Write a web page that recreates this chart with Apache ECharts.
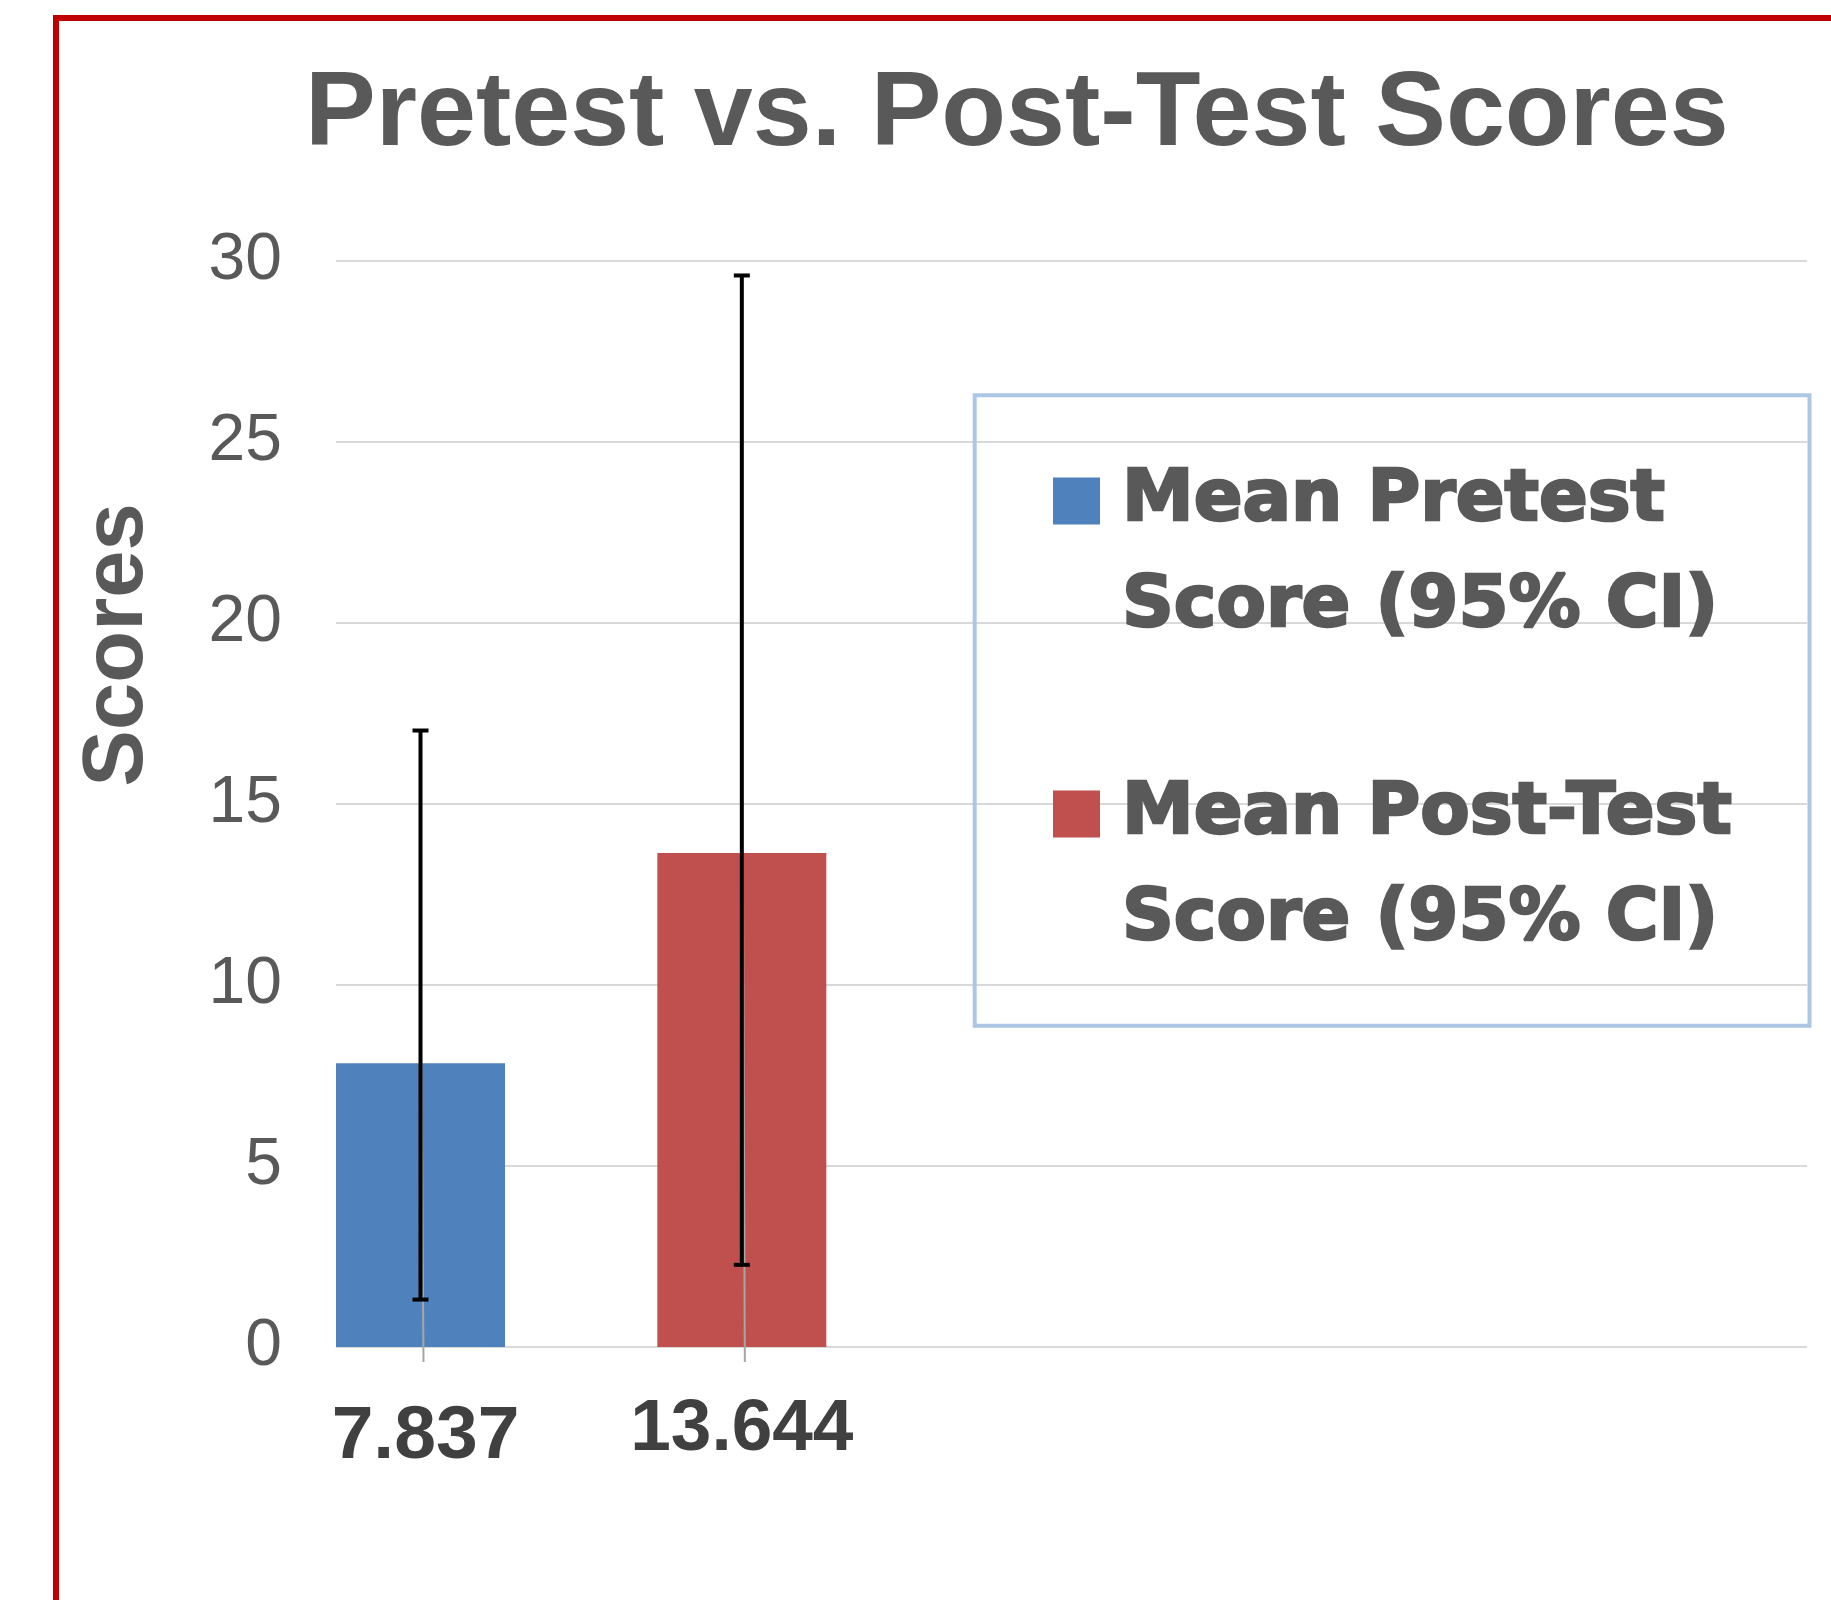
<!DOCTYPE html>
<html><head><meta charset="utf-8">
<script src="https://cdn.jsdelivr.net/npm/echarts@6.0.0/dist/echarts.min.js"></script>
<style>html,body{margin:0;padding:0;background:#fff}#c{width:1831px;height:1600px}</style>
</head><body><div id="c"></div>
<script>
// ---- data ----
const titleText = 'Pretest vs. Post-Test Scores';
const yAxisTitle = 'Scores';
const seriesNames = ['Mean Pretest Score (95% CI)', 'Mean Post-Test Score (95% CI)'];
const means = [7.837, 13.644];
const ciLow = [1.31, 2.27];
const ciHigh = [17.03, 29.6];
const seriesColors = ['#4f81bd', '#c0504d'];
const categorySlots = ['g0', 'g1', 'g2'];
const yMin = 0, yMax = 30, yInterval = 5;

// ---- style constants ----
const BAR_W = 169;
const TXT = '#595959';

const chart = echarts.init(document.getElementById('c'), null, {renderer: 'canvas'});

const barSeries = seriesNames.map((name, i) => ({
  name: name,
  type: 'bar',
  barWidth: BAR_W,
  barGap: '90.14%',
  itemStyle: {color: seriesColors[i]},
  data: [means[i]],
  z: 2,
  label: {
    show: true,
    position: 'bottom',
    distance: i === 0 ? 53 : 46,
    offset: i === 0 ? [5, 0] : [0, 0],
    formatter: '{c}',
    fontFamily: 'Liberation Sans, Arial, sans-serif',
    fontWeight: 'bold',
    fontSize: i === 0 ? 75 : 73,
    color: '#404040'
  }
}));

const errData = means.map((m, i) => [0, ciLow[i], ciHigh[i], m, i]);

const option = {
  animation: false,
  backgroundColor: '#ffffff',
  title: {
    text: titleText,
    left: 305,
    top: 63,
    padding: 0,
    textStyle: {fontFamily: 'Liberation Sans, Arial, sans-serif', fontWeight: 'bold', fontSize: 106, color: TXT}
  },
  grid: {left: 336, right: 24, top: 261, bottom: 253, containLabel: false, outerBoundsMode: 'none'},
  legend: {
    orient: 'vertical',
    left: 1053,
    top: 340,
    padding: 0,
    itemGap: -9,
    itemWidth: 47,
    itemHeight: 47,
    icon: 'rect',
    selectedMode: false,
    data: seriesNames,
    formatter: n => '\n' + n.replace(' Score', '\nScore'),
    textStyle: {fontFamily: 'DejaVu Sans', fontWeight: 'bold', fontSize: 72, color: TXT, lineHeight: 106,
      padding: [4, 0, 0, 17], textBorderColor: TXT, textBorderWidth: 2.5}
  },
  xAxis: {
    type: 'category',
    data: categorySlots,
    axisLine: {show: false},
    axisTick: {show: false},
    axisLabel: {show: false},
    splitLine: {show: false}
  },
  yAxis: {
    type: 'value',
    min: yMin, max: yMax, interval: yInterval,
    axisLine: {show: false},
    axisTick: {show: false},
    axisLabel: {fontFamily: 'Liberation Sans, Arial, sans-serif', fontSize: 66, color: TXT, margin: 54},
    splitLine: {show: true, lineStyle: {color: '#d9d9d9', width: 2}}
  },
  series: barSeries.concat([{
    name: 'CI',
    type: 'custom',
    z: 5,
    data: errData,
    renderItem: function (params, api) {
      const i = api.value(4);
      const band = api.size([1, 0])[0];
      const cx = api.coord([api.value(0), 0])[0];
      const off = band / 2 - BAR_W / 2;
      const x = cx + (i === 0 ? -off : off);
      const yHi = api.coord([api.value(0), api.value(2)])[1];
      const yLo = api.coord([api.value(0), api.value(1)])[1];
      const yMean = api.coord([api.value(0), api.value(3)])[1];
      const yBase = api.coord([api.value(0), 0])[1];
      return {type: 'group', children: [
        {type: 'line', shape: {x1: x + 1, y1: yMean, x2: x + 3, y2: yBase + 15}, style: {stroke: '#a6a6a6', lineWidth: 2}},
        {type: 'line', shape: {x1: x, y1: yHi, x2: x, y2: yLo}, style: {stroke: '#000', lineWidth: 4}},
        {type: 'line', shape: {x1: x - 8, y1: yHi, x2: x + 8, y2: yHi}, style: {stroke: '#000', lineWidth: 4}},
        {type: 'line', shape: {x1: x - 8, y1: yLo, x2: x + 8, y2: yLo}, style: {stroke: '#000', lineWidth: 4}}
      ]};
    }
  }]),
  graphic: [
    {type: 'rect', shape: {x: 56, y: 18, width: 2000, height: 2000}, style: {fill: 'none', stroke: '#c00000', lineWidth: 6}, z: 10, silent: true},
    {type: 'rect', shape: {x: 974.7, y: 395.3, width: 834.8, height: 630.4}, style: {fill: 'none', stroke: '#adc6e6', lineWidth: 4}, z: 1, silent: true},
    {type: 'text', x: 119, y: 645, rotation: Math.PI / 2,
     style: {text: yAxisTitle, fontFamily: 'Liberation Sans, Arial, sans-serif', fontWeight: 'bold', fontSize: 85, fill: TXT, align: 'center', verticalAlign: 'middle'}, silent: true}
  ]
};
chart.setOption(option);
</script></body></html>
